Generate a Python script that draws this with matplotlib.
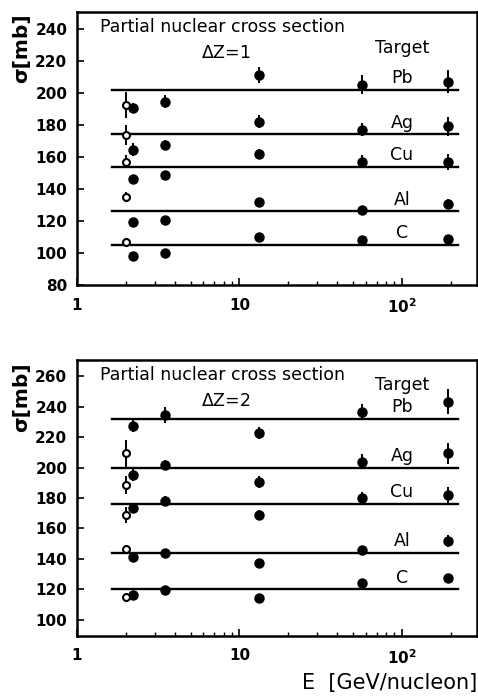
import numpy as np
import matplotlib
matplotlib.use('Agg')
import matplotlib.pyplot as plt

# energies (GeV/nucleon)
e_open = 2.0
energies = [2.2, 3.5, 13.2, 57, 192]
targets = ['Pb', 'Ag', 'Cu', 'Al', 'C']
line_x = [1.65, 220]

# dZ = 1
dz1_lines = [202, 174, 154, 126, 105]
dz1_open = [192.5, 173.7, 157, 135, 107]
dz1_open_err = [8, 6, 4, 3, 1.5]
dz1_pb = [190.5, 194.5, 211, 205, 207]
dz1_pb_err = [3, 4, 5, 6, 7]
dz1_ag = [164.4, 167.5, 182, 177, 179]
dz1_ag_err = [4, 3, 4, 4, 6]
dz1_cu = [146, 148.8, 162, 157, 157]
dz1_cu_err = [3, 2, 3, 4, 5]
dz1_al = [119.5, 120.6, 132, 126.6, 130.6]
dz1_al_err = [2, 2, 1.5, 1.5, 3]
dz1_c = [98, 100, 110, 108, 109]
dz1_c_err = [1.5, 1.5, 1.5, 1.5, 2]

# dZ = 2
dz2_lines = [232, 200, 176, 144, 120]
dz2_open = [209.3, 188.5, 168.9, 146.3, 115.3]
dz2_open_err = [9, 6, 5, 3, 1.5]
dz2_pb = [227.2, 234.4, 222.4, 236.6, 243.2]
dz2_pb_err = [4, 5, 4, 5, 8]
dz2_ag = [195.1, 201.6, 190.7, 203.8, 209.3]
dz2_ag_err = [4, 3, 4, 5, 7]
dz2_cu = [173.2, 178.2, 168.9, 179.8, 182]
dz2_cu_err = [3, 3, 3, 4, 5]
dz2_al = [141.5, 143.7, 137.2, 145.9, 152]
dz2_al_err = [2, 2, 2, 2, 4]
dz2_c = [116.4, 119.7, 114.2, 124, 127.3]
dz2_c_err = [1.5, 2, 1.5, 2, 3]

fig = plt.figure(figsize=(4.78, 6.96), dpi=100)
ax1 = fig.add_axes([77/478, 1-285/696, 400/478, 273/696])
ax2 = fig.add_axes([77/478, 1-636/696, 400/478, 276/696])

fs = 12.5


def panel(ax, lines, opn, opn_err, filled, filled_err, ylim, yticks, dz, target_y):
    for i, name in enumerate(targets):
        ax.plot(line_x, [lines[i], lines[i]], 'k-', lw=1.7)
        ax.errorbar(energies, filled[i], yerr=filled_err[i], fmt='o', color='k',
                    ms=6.5, elinewidth=1.4, capsize=0)
        ax.errorbar([e_open], [opn[i]], yerr=[opn_err[i]], fmt='o', mfc='white',
                    mec='k', mew=1.5, color='k', ms=5, elinewidth=1.4, capsize=0)
        ax.annotate(name, (100, lines[i]), xytext=(0, 2), textcoords='offset points',
                    ha='center', va='bottom', fontsize=fs)
    ax.set_xscale('log')
    ax.set_xlim(1, 290)
    ax.set_ylim(*ylim)
    ax.set_yticks(yticks)
    ax.set_xticks([1, 10, 100])
    ax.set_xticklabels(['1', '10', r'$\mathregular{10^2}$'])
    ax.tick_params(axis='both', which='major', direction='in', length=5, width=1.2,
                   labelsize=11)
    ax.tick_params(axis='x', which='minor', direction='in', length=3, width=1)
    ax.tick_params(axis='x', pad=9)
    ax.tick_params(axis='y', pad=7)
    for lab in ax.get_yticklabels() + ax.get_xticklabels():
        lab.set_fontweight('bold')
    for s in ax.spines.values():
        s.set_linewidth(1.8)
    ax.text(0.058, 0.945, 'Partial nuclear cross section', transform=ax.transAxes,
            ha='left', va='center', fontsize=fs)
    ax.text(0.31, 0.85, r'$\Delta$Z=%d' % dz, transform=ax.transAxes,
            ha='left', va='center', fontsize=fs)
    ax.text(100, target_y, 'Target', ha='center', va='center', fontsize=fs)


panel(ax1, dz1_lines, dz1_open, dz1_open_err,
      [dz1_pb, dz1_ag, dz1_cu, dz1_al, dz1_c],
      [dz1_pb_err, dz1_ag_err, dz1_cu_err, dz1_al_err, dz1_c_err],
      (80, 250.5), range(80, 241, 20), 1, 228)
panel(ax2, dz2_lines, dz2_open, dz2_open_err,
      [dz2_pb, dz2_ag, dz2_cu, dz2_al, dz2_c],
      [dz2_pb_err, dz2_ag_err, dz2_cu_err, dz2_al_err, dz2_c_err],
      (89.5, 270.5), range(100, 261, 20), 2, 254)

fig.text(22/478, 1-13/696, 'σ[mb]', rotation=90, ha='center', va='top',
         fontsize=14.5, fontweight='bold')
fig.text(22/478, 1-362/696, 'σ[mb]', rotation=90, ha='center', va='top',
         fontsize=14.5, fontweight='bold')
fig.text(477/478, 1-683/696, 'E  [GeV/nucleon]', ha='right', va='center', fontsize=15)

fig.savefig('out.png', dpi=100)
